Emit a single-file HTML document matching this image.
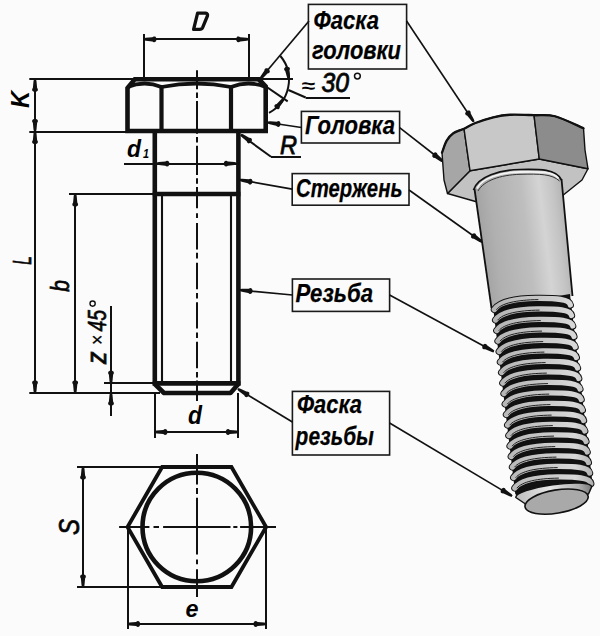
<!DOCTYPE html>
<html><head><meta charset="utf-8"><style>
html,body{margin:0;padding:0;background:#fbfbfb;}
svg{display:block;font-family:"Liberation Sans",sans-serif;}
</style></head><body>
<svg width="600" height="636" viewBox="0 0 600 636">
<line x1="197" y1="70.3" x2="197" y2="89.2" stroke="#111" stroke-width="2"/>
<line x1="197" y1="92.4" x2="197" y2="97.9" stroke="#111" stroke-width="2"/>
<line x1="197" y1="101" x2="197" y2="133.7" stroke="#111" stroke-width="2"/>
<line x1="197" y1="137" x2="197" y2="142.4" stroke="#111" stroke-width="2"/>
<line x1="197" y1="145.7" x2="197" y2="175" stroke="#111" stroke-width="2"/>
<line x1="197" y1="178.3" x2="197" y2="183.7" stroke="#111" stroke-width="2"/>
<line x1="197" y1="187" x2="197" y2="208.2" stroke="#111" stroke-width="2"/>
<line x1="197" y1="213.2" x2="197" y2="218.1" stroke="#111" stroke-width="2"/>
<line x1="197" y1="223" x2="197" y2="249.5" stroke="#111" stroke-width="2"/>
<line x1="197" y1="252.8" x2="197" y2="258.6" stroke="#111" stroke-width="2"/>
<line x1="197" y1="262.7" x2="197" y2="289.2" stroke="#111" stroke-width="2"/>
<line x1="197" y1="293" x2="197" y2="298.6" stroke="#111" stroke-width="2"/>
<line x1="197" y1="302.2" x2="197" y2="328.6" stroke="#111" stroke-width="2"/>
<line x1="197" y1="332.4" x2="197" y2="338" stroke="#111" stroke-width="2"/>
<line x1="197" y1="341.8" x2="197" y2="368.2" stroke="#111" stroke-width="2"/>
<line x1="197" y1="371.9" x2="197" y2="377.6" stroke="#111" stroke-width="2"/>
<line x1="197" y1="380.4" x2="197" y2="401" stroke="#111" stroke-width="2"/>
<line x1="144" y1="34" x2="144" y2="79" stroke="#111" stroke-width="2.0" />
<line x1="249" y1="34" x2="249" y2="79" stroke="#111" stroke-width="2.0" />
<line x1="143.8" y1="39" x2="248.8" y2="39" stroke="#111" stroke-width="2.0" />
<polygon points="143.80,38.30 145.80,37.80 152.30,37.20 153.80,36.40 155.30,36.60 156.30,38.10 156.30,40.50 155.30,42.00 153.80,42.20 152.30,41.40 145.80,40.80 143.80,40.30" fill="#111"/>
<polygon points="248.80,40.30 246.80,40.80 240.30,41.40 238.80,42.20 237.30,42.00 236.30,40.50 236.30,38.10 237.30,36.60 238.80,36.40 240.30,37.20 246.80,37.80 248.80,38.30" fill="#111"/>
<path d="M197.6,13.2 L205.6,13.2 Q208.2,13.6 207.4,16 L202.6,27.6 Q201.8,29.4 199.6,29.4 L193.6,29.4 Z" fill="none" stroke="#111" stroke-width="3.3" stroke-linejoin="round"/>
<line x1="29.3" y1="79" x2="140" y2="79" stroke="#111" stroke-width="2.0" />
<line x1="29.3" y1="132" x2="130" y2="132" stroke="#111" stroke-width="2.0" />
<line x1="35" y1="79.2" x2="35" y2="393" stroke="#111" stroke-width="2.0" />
<polygon points="36.00,79.20 36.50,81.20 37.10,87.70 37.90,89.20 37.70,90.70 36.20,91.70 33.80,91.70 32.30,90.70 32.10,89.20 32.90,87.70 33.50,81.20 34.00,79.20" fill="#111"/>
<polygon points="34.00,131.50 33.50,129.50 32.90,123.00 32.10,121.50 32.30,120.00 33.80,119.00 36.20,119.00 37.70,120.00 37.90,121.50 37.10,123.00 36.50,129.50 36.00,131.50" fill="#111"/>
<polygon points="36.00,131.50 36.50,133.50 37.10,140.00 37.90,141.50 37.70,143.00 36.20,144.00 33.80,144.00 32.30,143.00 32.10,141.50 32.90,140.00 33.50,133.50 34.00,131.50" fill="#111"/>
<polygon points="34.00,393.00 33.50,391.00 32.90,384.50 32.10,383.00 32.30,381.50 33.80,380.50 36.20,380.50 37.70,381.50 37.90,383.00 37.10,384.50 36.50,391.00 36.00,393.00" fill="#111"/>
<line x1="29.3" y1="393" x2="160" y2="393" stroke="#111" stroke-width="2.0" />
<line x1="69" y1="194" x2="160" y2="194" stroke="#111" stroke-width="2.0" />
<line x1="75" y1="194" x2="75" y2="393" stroke="#111" stroke-width="2.0" />
<polygon points="76.20,194.00 76.70,196.00 77.30,202.50 78.10,204.00 77.90,205.50 76.40,206.50 74.00,206.50 72.50,205.50 72.30,204.00 73.10,202.50 73.70,196.00 74.20,194.00" fill="#111"/>
<polygon points="74.20,393.00 73.70,391.00 73.10,384.50 72.30,383.00 72.50,381.50 74.00,380.50 76.40,380.50 77.90,381.50 78.10,383.00 77.30,384.50 76.70,391.00 76.20,393.00" fill="#111"/>
<line x1="104" y1="383" x2="160" y2="383" stroke="#111" stroke-width="2.0" />
<line x1="111" y1="306" x2="111" y2="416" stroke="#111" stroke-width="2.0" />
<polygon points="110.00,383.20 109.50,381.20 108.90,374.70 108.10,373.20 108.30,371.70 109.80,370.70 112.20,370.70 113.70,371.70 113.90,373.20 113.10,374.70 112.50,381.20 112.00,383.20" fill="#111"/>
<polygon points="112.00,393.00 112.50,395.00 113.10,401.50 113.90,403.00 113.70,404.50 112.20,405.50 109.80,405.50 108.30,404.50 108.10,403.00 108.90,401.50 109.50,395.00 110.00,393.00" fill="#111"/>
<text x="29" y="99.5" font-size="26" font-weight="bold" font-style="italic" textLength="17" lengthAdjust="spacingAndGlyphs" text-anchor="middle" transform="rotate(-90 29 99.5)" >K</text>
<text x="31" y="260.5" font-size="26" font-weight="normal" font-style="italic" textLength="8.5" lengthAdjust="spacingAndGlyphs" text-anchor="middle" transform="rotate(-90 31 260.5)" stroke="#111" stroke-width="0.8" >L</text>
<text x="69.3" y="286" font-size="26" font-weight="normal" font-style="italic" textLength="11.7" lengthAdjust="spacingAndGlyphs" text-anchor="middle" transform="rotate(-90 69.3 286)" stroke="#111" stroke-width="0.8" >b</text>
<text x="106" y="357.8" font-size="27" font-weight="normal" font-style="italic" textLength="12.4" lengthAdjust="spacingAndGlyphs" text-anchor="middle" transform="rotate(-90 106 357.8)" stroke="#111" stroke-width="0.9" >z</text>
<text x="103.5" y="340" font-size="21" font-weight="normal" font-style="italic" textLength="10.4" lengthAdjust="spacingAndGlyphs" text-anchor="middle" transform="rotate(-90 103.5 340)" stroke="#111" stroke-width="0.25" >×</text>
<text x="106.4" y="320.8" font-size="26" font-weight="normal" font-style="italic" textLength="21.5" lengthAdjust="spacingAndGlyphs" text-anchor="middle" transform="rotate(-90 106.4 320.8)" stroke="#111" stroke-width="0.7" >45</text>
<circle cx="92.6" cy="303.6" r="2.6" fill="none" stroke="#111" stroke-width="1.4"/>
<path d="M127.5,131 L127.5,88 L134.8,79.2 L259,79.2 L265.7,86.5 L265.7,131 Z" fill="none" stroke="#111" stroke-width="4.6" stroke-linejoin="miter"/>
<line x1="161.5" y1="86" x2="161.5" y2="131" stroke="#111" stroke-width="4.2" />
<line x1="231" y1="86" x2="231" y2="131" stroke="#111" stroke-width="4.2" />
<path d="M127.5,87 Q144.6,80 161.5,87 Q196.5,80 231,87 Q248.4,80 265.7,87" fill="none" stroke="#111" stroke-width="3.8"/>
<line x1="259" y1="79" x2="293" y2="79" stroke="#111" stroke-width="2.0" />
<line x1="154.8" y1="131" x2="154.8" y2="385.5" stroke="#111" stroke-width="4.6" />
<line x1="238.4" y1="131" x2="238.4" y2="385.5" stroke="#111" stroke-width="4.6" />
<line x1="152.8" y1="194" x2="240.4" y2="194" stroke="#111" stroke-width="4.6" />
<line x1="162" y1="194" x2="162" y2="383.2" stroke="#111" stroke-width="2.1" />
<line x1="231" y1="194" x2="231" y2="383.2" stroke="#111" stroke-width="2.1" />
<line x1="152.8" y1="383.4" x2="240.4" y2="383.4" stroke="#111" stroke-width="4.6" />
<path d="M154.8,384 L164,393 L230.5,393 L238.4,384" fill="none" stroke="#111" stroke-width="4.6" stroke-linejoin="round"/>
<line x1="124" y1="164" x2="154.8" y2="164" stroke="#111" stroke-width="2.0" />
<line x1="154.8" y1="164" x2="238.4" y2="164" stroke="#111" stroke-width="2.0" />
<polygon points="156.80,162.60 158.80,162.10 165.30,161.50 166.80,160.70 168.30,160.90 169.30,162.40 169.30,164.80 168.30,166.30 166.80,166.50 165.30,165.70 158.80,165.10 156.80,164.60" fill="#111"/>
<polygon points="236.40,164.60 234.40,165.10 227.90,165.70 226.40,166.50 224.90,166.30 223.90,164.80 223.90,162.40 224.90,160.90 226.40,160.70 227.90,161.50 234.40,162.10 236.40,162.60" fill="#111"/>
<text x="127" y="157" font-size="24" font-weight="bold" font-style="italic" textLength="14" lengthAdjust="spacingAndGlyphs" >d</text>
<text x="143" y="157.5" font-size="13" font-weight="bold" font-style="italic" textLength="6" lengthAdjust="spacingAndGlyphs" >1</text>
<line x1="241" y1="135" x2="271" y2="156.7" stroke="#111" stroke-width="2.0" />
<line x1="271" y1="157" x2="301" y2="157" stroke="#111" stroke-width="2.0" />
<polygon points="241.59,133.69 243.50,134.46 249.12,137.79 250.80,138.02 251.90,139.06 251.83,140.86 250.42,142.81 248.73,143.43 247.40,142.72 246.65,141.19 241.74,136.89 240.41,135.31" fill="#111"/>
<text x="280" y="154" font-size="26" font-weight="normal" font-style="italic" textLength="17" lengthAdjust="spacingAndGlyphs" stroke="#111" stroke-width="0.9" >R</text>
<line x1="155" y1="393" x2="155" y2="438" stroke="#111" stroke-width="2.0" />
<line x1="238" y1="393" x2="238" y2="438" stroke="#111" stroke-width="2.0" />
<line x1="154.8" y1="432" x2="238.4" y2="432" stroke="#111" stroke-width="2.0" />
<polygon points="154.80,431.00 156.80,430.50 163.30,429.90 164.80,429.10 166.30,429.30 167.30,430.80 167.30,433.20 166.30,434.70 164.80,434.90 163.30,434.10 156.80,433.50 154.80,433.00" fill="#111"/>
<polygon points="238.40,433.00 236.40,433.50 229.90,434.10 228.40,434.90 226.90,434.70 225.90,433.20 225.90,430.80 226.90,429.30 228.40,429.10 229.90,429.90 236.40,430.50 238.40,431.00" fill="#111"/>
<text x="195" y="424.3" font-size="26" font-weight="bold" font-style="italic" textLength="14" lengthAdjust="spacingAndGlyphs" text-anchor="middle" >d</text>
<path d="M280.4,56 A37.3,37.3 0 0 1 269,112.8" fill="none" stroke="#111" stroke-width="2.0"/>
<line x1="258" y1="81" x2="287.7" y2="101.4" stroke="#111" stroke-width="2.0" />
<polygon points="287.92,79.38 287.06,77.50 285.30,71.22 284.24,69.89 284.17,68.38 285.46,67.12 287.82,66.69 289.48,67.40 289.95,68.84 289.43,70.46 290.01,76.96 289.88,79.02" fill="#111"/>
<polygon points="284.47,99.34 283.58,101.20 279.90,106.59 279.57,108.26 278.46,109.29 276.66,109.10 274.81,107.57 274.29,105.85 275.10,104.56 276.67,103.92 281.27,99.29 282.93,98.06" fill="#111"/>
<line x1="260.4" y1="78.7" x2="309" y2="21" stroke="#111" stroke-width="1.7" />
<polygon points="259.64,78.05 260.54,76.20 264.28,70.85 264.63,69.19 265.75,68.17 267.55,68.37 269.38,69.92 269.88,71.65 269.07,72.93 267.49,73.56 262.84,78.14 261.16,79.35" fill="#111"/>
<line x1="288.4" y1="90" x2="305.7" y2="97.5" stroke="#111" stroke-width="2.0" />
<line x1="305.7" y1="98" x2="350" y2="98" stroke="#111" stroke-width="2.0" />
<text x="302" y="92" font-size="18" font-weight="bold" font-style="normal" textLength="13.5" lengthAdjust="spacingAndGlyphs" >≈</text>
<text x="321.5" y="92.2" font-size="27" font-weight="normal" font-style="italic" textLength="27.5" lengthAdjust="spacingAndGlyphs" stroke="#111" stroke-width="0.9" >30</text>
<circle cx="357.4" cy="76.1" r="2.9" fill="none" stroke="#111" stroke-width="1.5"/>
<polygon points="266.10,527.00 231.45,587.02 162.15,587.02 127.50,527.00 162.15,466.98 231.45,466.98" fill="none" stroke="#111" stroke-width="3.8"/>
<circle cx="196.8" cy="527" r="54.3" fill="none" stroke="#111" stroke-width="4.6"/>
<line x1="119.1" y1="527" x2="149.4" y2="527" stroke="#111" stroke-width="2"/>
<line x1="153.5" y1="527" x2="159" y2="527" stroke="#111" stroke-width="2"/>
<line x1="163.1" y1="527" x2="230.5" y2="527" stroke="#111" stroke-width="2"/>
<line x1="233.3" y1="527" x2="237.4" y2="527" stroke="#111" stroke-width="2"/>
<line x1="240.1" y1="527" x2="276" y2="527" stroke="#111" stroke-width="2"/>
<line x1="197" y1="454" x2="197" y2="484.4" stroke="#111" stroke-width="2"/>
<line x1="197" y1="488" x2="197" y2="494" stroke="#111" stroke-width="2"/>
<line x1="197" y1="497.7" x2="197" y2="554.6" stroke="#111" stroke-width="2"/>
<line x1="197" y1="559.5" x2="197" y2="564.3" stroke="#111" stroke-width="2"/>
<line x1="197" y1="569.2" x2="197" y2="597" stroke="#111" stroke-width="2"/>
<line x1="77" y1="467" x2="162" y2="467" stroke="#111" stroke-width="2.0" />
<line x1="77" y1="587" x2="162" y2="587" stroke="#111" stroke-width="2.0" />
<line x1="83" y1="467" x2="83" y2="587" stroke="#111" stroke-width="2.0" />
<polygon points="84.00,467.00 84.50,469.00 85.10,475.50 85.90,477.00 85.70,478.50 84.20,479.50 81.80,479.50 80.30,478.50 80.10,477.00 80.90,475.50 81.50,469.00 82.00,467.00" fill="#111"/>
<polygon points="82.00,587.00 81.50,585.00 80.90,578.50 80.10,577.00 80.30,575.50 81.80,574.50 84.20,574.50 85.70,575.50 85.90,577.00 85.10,578.50 84.50,585.00 84.00,587.00" fill="#111"/>
<text x="78.5" y="527" font-size="30" font-weight="normal" font-style="italic" textLength="16" lengthAdjust="spacingAndGlyphs" text-anchor="middle" transform="rotate(-90 78.5 527)" stroke="#111" stroke-width="0.8" >S</text>
<line x1="128" y1="527" x2="128" y2="629" stroke="#111" stroke-width="2.0" />
<line x1="266" y1="527" x2="266" y2="629" stroke="#111" stroke-width="2.0" />
<line x1="127.50000000000001" y1="624" x2="266.1" y2="624" stroke="#111" stroke-width="2.0" />
<polygon points="127.50,623.00 129.50,622.50 136.00,621.90 137.50,621.10 139.00,621.30 140.00,622.80 140.00,625.20 139.00,626.70 137.50,626.90 136.00,626.10 129.50,625.50 127.50,625.00" fill="#111"/>
<polygon points="266.10,625.00 264.10,625.50 257.60,626.10 256.10,626.90 254.60,626.70 253.60,625.20 253.60,622.80 254.60,621.30 256.10,621.10 257.60,621.90 264.10,622.50 266.10,623.00" fill="#111"/>
<text x="192" y="617" font-size="24" font-weight="bold" font-style="italic" textLength="13" lengthAdjust="spacingAndGlyphs" text-anchor="middle" >e</text>
<rect x="308.4" y="4.4" width="98.20000000000005" height="64.6" fill="none" stroke="#1a1a1a" stroke-width="1.6"/>
<text x="313.6" y="28.6" font-size="26.5" font-weight="bold" font-style="italic" textLength="65.4" lengthAdjust="spacingAndGlyphs" stroke="#111" stroke-width="0.25" >Фаска</text>
<text x="312" y="59.3" font-size="26.5" font-weight="bold" font-style="italic" textLength="89" lengthAdjust="spacingAndGlyphs" stroke="#111" stroke-width="0.25" >головки</text>
<rect x="301.4" y="111.4" width="98.20000000000005" height="31.599999999999994" fill="none" stroke="#1a1a1a" stroke-width="1.6"/>
<text x="305" y="134.3" font-size="26.5" font-weight="bold" font-style="italic" textLength="90" lengthAdjust="spacingAndGlyphs" stroke="#111" stroke-width="0.25" >Головка</text>
<line x1="268" y1="122.5" x2="301.4" y2="127.5" stroke="#111" stroke-width="1.7" />
<polygon points="268.15,121.51 270.20,121.31 276.72,121.68 278.32,121.12 279.77,121.54 280.54,123.17 280.18,125.54 278.97,126.88 277.46,126.85 276.09,125.84 269.76,124.28 267.85,123.49" fill="#111"/>
<rect x="292.2" y="173.6" width="116.80000000000001" height="31.599999999999994" fill="none" stroke="#1a1a1a" stroke-width="1.6"/>
<text x="296" y="196.8" font-size="26.5" font-weight="bold" font-style="italic" textLength="106.5" lengthAdjust="spacingAndGlyphs" stroke="#111" stroke-width="0.25" >Стержень</text>
<line x1="240" y1="179.8" x2="292.2" y2="189.2" stroke="#111" stroke-width="1.7" />
<polygon points="240.18,178.82 242.23,178.68 248.74,179.24 250.36,178.72 251.80,179.18 252.51,180.83 252.09,183.20 250.84,184.49 249.33,184.43 247.99,183.37 241.70,181.63 239.82,180.78" fill="#111"/>
<rect x="292.4" y="279" width="97.20000000000005" height="32.39999999999998" fill="none" stroke="#1a1a1a" stroke-width="1.6"/>
<text x="295.6" y="302.3" font-size="26.5" font-weight="bold" font-style="italic" textLength="77.4" lengthAdjust="spacingAndGlyphs" stroke="#111" stroke-width="0.25" >Резьба</text>
<line x1="240" y1="290" x2="292.4" y2="295" stroke="#111" stroke-width="1.7" />
<polygon points="240.10,289.00 242.14,288.71 248.67,288.76 250.24,288.11 251.71,288.46 252.56,290.05 252.32,292.44 251.17,293.83 249.66,293.88 248.25,292.94 241.84,291.69 239.90,291.00" fill="#111"/>
<rect x="292.4" y="391.4" width="97.20000000000005" height="63.60000000000002" fill="none" stroke="#1a1a1a" stroke-width="1.6"/>
<text x="297" y="413.3" font-size="26.5" font-weight="bold" font-style="italic" textLength="65" lengthAdjust="spacingAndGlyphs" stroke="#111" stroke-width="0.25" >Фаска</text>
<text x="295.6" y="445.3" font-size="26.5" font-weight="bold" font-style="italic" textLength="78.4" lengthAdjust="spacingAndGlyphs" stroke="#111" stroke-width="0.25" >резьбы</text>
<line x1="238" y1="389" x2="292.4" y2="422" stroke="#111" stroke-width="1.7" />
<polygon points="238.51,388.14 240.49,388.74 246.37,391.57 248.07,391.66 249.25,392.60 249.34,394.40 248.10,396.46 246.47,397.23 245.08,396.63 244.21,395.17 238.94,391.32 237.49,389.86" fill="#111"/>
<line x1="406.6" y1="21" x2="473.7" y2="121.7" stroke="#111" stroke-width="1.6" />
<polygon points="472.87,122.25 471.34,120.86 467.25,115.77 465.76,114.97 465.10,113.61 465.79,111.94 467.80,110.62 469.60,110.62 470.59,111.76 470.76,113.45 473.85,119.20 474.53,121.15" fill="#111"/>
<line x1="399.6" y1="127.7" x2="443" y2="161.5" stroke="#111" stroke-width="1.6" />
<polygon points="442.38,162.29 440.50,161.45 435.01,157.93 433.33,157.64 432.27,156.56 432.41,154.76 433.88,152.87 435.59,152.30 436.90,153.06 437.59,154.62 442.35,159.09 443.62,160.71" fill="#111"/>
<line x1="409" y1="190" x2="482" y2="242" stroke="#111" stroke-width="1.6" />
<polygon points="481.42,242.82 479.50,242.07 473.85,238.79 472.17,238.58 471.06,237.54 471.11,235.74 472.50,233.79 474.19,233.14 475.53,233.85 476.28,235.37 481.24,239.62 482.58,241.18" fill="#111"/>
<line x1="389.6" y1="295" x2="493.8" y2="351.5" stroke="#111" stroke-width="1.6" />
<polygon points="493.32,352.38 491.33,351.87 485.32,349.31 483.62,349.30 482.40,348.41 482.23,346.62 483.37,344.50 484.96,343.66 486.38,344.20 487.32,345.61 492.75,349.23 494.28,350.62" fill="#111"/>
<line x1="389.6" y1="423" x2="512" y2="496" stroke="#111" stroke-width="1.6" />
<polygon points="511.49,496.86 509.51,496.26 503.63,493.43 501.93,493.34 500.75,492.40 500.66,490.60 501.90,488.54 503.53,487.77 504.92,488.37 505.79,489.83 511.06,493.68 512.51,495.14" fill="#111"/>
<defs>
<linearGradient id="gshank" gradientUnits="userSpaceOnUse" x1="476" y1="192" x2="566" y2="181">
<stop offset="0" stop-color="#a4a4a4"/><stop offset="0.15" stop-color="#b0b0b0"/>
<stop offset="0.5" stop-color="#bebebe"/><stop offset="0.7" stop-color="#d4d4d4"/>
<stop offset="0.85" stop-color="#c4c4c4"/><stop offset="1" stop-color="#acacac"/>
</linearGradient>
<linearGradient id="gcham" gradientUnits="userSpaceOnUse" x1="515" y1="500" x2="595" y2="486">
<stop offset="0" stop-color="#bdbdbd"/><stop offset="0.45" stop-color="#e6e6e6"/>
<stop offset="0.8" stop-color="#b0b0b0"/><stop offset="1" stop-color="#6a6a6a"/>
</linearGradient>
<linearGradient id="gthr" gradientUnits="userSpaceOnUse" x1="495" y1="0" x2="595" y2="0">
<stop offset="0" stop-color="#b4b4b4"/><stop offset="0.45" stop-color="#c6c6c6"/>
<stop offset="0.8" stop-color="#d8d8d8"/><stop offset="1" stop-color="#aaaaaa"/>
</linearGradient>
</defs>
<polygon points="447.50,193.50 470.00,170.70 539.25,159.00 588.00,168.75 582.00,180.00 562.70,195.50 520.00,200.00 477.30,202.00" fill="#c2c2c2" stroke="#111" stroke-width="1.4" stroke-linejoin="round"/>
<path d="M442.00,152.70 C442.78,150.70 444.82,143.93 446.70,140.70 C448.58,137.47 450.42,135.30 453.30,133.30 C456.18,131.30 462.22,129.47 464.00,128.70 L470,170.7 L447.5,193.5 L444,180 Z" fill="#a6a6a6" stroke="#111" stroke-width="1.4" stroke-linejoin="round"/>
<path d="M464.00,128.70 C465.78,127.80 469.82,125.20 474.70,123.30 C479.58,121.40 487.42,118.72 493.30,117.30 C499.18,115.88 503.22,115.10 510.00,114.75 C516.78,114.40 530.00,115.12 534.00,115.20 L539.25,159 L470,170.7 Z" fill="#c8c8c8" stroke="#111" stroke-width="1.4" stroke-linejoin="round"/>
<path d="M534.00,115.20 C537.50,115.38 546.75,114.08 555.00,116.25 C563.25,118.42 578.75,126.25 583.50,128.25 L585,150 L588,168.75 L539.25,159 Z" fill="#8c8c8c" stroke="#111" stroke-width="1.4" stroke-linejoin="round"/>
<path d="M442.00,152.70 C442.78,150.70 444.82,143.93 446.70,140.70 C448.58,137.47 450.42,135.30 453.30,133.30 C456.18,131.30 460.43,130.37 464.00,128.70 C467.57,127.03 469.82,125.20 474.70,123.30 C479.58,121.40 487.42,118.72 493.30,117.30 C499.18,115.88 503.22,115.10 510.00,114.75 C516.78,114.40 526.50,114.95 534.00,115.20 C541.50,115.45 546.75,114.08 555.00,116.25 C563.25,118.42 578.75,126.25 583.50,128.25" fill="none" stroke="#111" stroke-width="2.3" stroke-linecap="round"/>
<path d="M474.5,190 C479,176 500,170.5 520,170 C540,169.5 556,169.5 561.5,180 L572.5,296 L491.5,308 Z" fill="url(#gshank)" stroke="none"/>
<line x1="474.5" y1="189" x2="491.5" y2="308" stroke="#111" stroke-width="1.8"/>
<line x1="561.5" y1="179" x2="572.5" y2="296" stroke="#111" stroke-width="1.8"/>
<path d="M473.5,190 C478,176 500,170 520,169.5 C540,169 556,169 561.5,180" fill="none" stroke="#111" stroke-width="1.7"/>
<path d="M477,188.5 C482,178 500,172.5 520,172 C540,171.5 553,171.5 558.5,178.5" fill="none" stroke="#f4f4f4" stroke-width="1.8"/>
<path d="M478,191 C484,180.5 500,175 520,174.3 C540,173.8 552,174 559.5,181" fill="none" stroke="#333" stroke-width="1.0"/>
<polygon points="493.07,307.00 569.93,294.00 592.62,484.00 589.00,492.00 527.00,506.00 515.27,494.00" fill="#111"/>
<path d="M494.36,309.50 C499.36,302.00 516.36,298.50 536.36,298.30 C556.36,298.10 569.36,299.00 570.36,305.00" fill="none" stroke="#111" stroke-width="7.2" stroke-linecap="round"/>
<path d="M494.36,309.50 C499.36,302.00 516.36,298.50 536.36,298.30 C556.36,298.10 569.36,299.00 570.36,305.00" fill="none" stroke="url(#gthr)" stroke-width="5.3" stroke-linecap="round"/>
<path d="M496.36,309.70 C501.36,303.30 516.36,299.90 538.36,299.60" fill="none" stroke="#222" stroke-width="1.0"/>
<path d="M495.57,320.00 C500.57,312.50 517.57,309.00 537.57,308.80 C557.57,308.60 570.57,309.50 571.57,315.50" fill="none" stroke="#111" stroke-width="7.2" stroke-linecap="round"/>
<path d="M495.57,320.00 C500.57,312.50 517.57,309.00 537.57,308.80 C557.57,308.60 570.57,309.50 571.57,315.50" fill="none" stroke="url(#gthr)" stroke-width="5.3" stroke-linecap="round"/>
<path d="M497.57,320.20 C502.57,313.80 517.57,310.40 539.57,310.10" fill="none" stroke="#222" stroke-width="1.0"/>
<path d="M496.77,330.50 C501.77,323.00 518.77,319.50 538.77,319.30 C558.77,319.10 571.77,320.00 572.77,326.00" fill="none" stroke="#111" stroke-width="7.2" stroke-linecap="round"/>
<path d="M496.77,330.50 C501.77,323.00 518.77,319.50 538.77,319.30 C558.77,319.10 571.77,320.00 572.77,326.00" fill="none" stroke="url(#gthr)" stroke-width="5.3" stroke-linecap="round"/>
<path d="M498.77,330.70 C503.77,324.30 518.77,320.90 540.77,320.60" fill="none" stroke="#222" stroke-width="1.0"/>
<path d="M497.98,341.00 C502.98,333.50 519.98,330.00 539.98,329.80 C559.98,329.60 572.98,330.50 573.98,336.50" fill="none" stroke="#111" stroke-width="7.2" stroke-linecap="round"/>
<path d="M497.98,341.00 C502.98,333.50 519.98,330.00 539.98,329.80 C559.98,329.60 572.98,330.50 573.98,336.50" fill="none" stroke="url(#gthr)" stroke-width="5.3" stroke-linecap="round"/>
<path d="M499.98,341.20 C504.98,334.80 519.98,331.40 541.98,331.10" fill="none" stroke="#222" stroke-width="1.0"/>
<path d="M499.18,351.50 C504.18,344.00 521.18,340.50 541.18,340.30 C561.18,340.10 574.18,341.00 575.18,347.00" fill="none" stroke="#111" stroke-width="7.2" stroke-linecap="round"/>
<path d="M499.18,351.50 C504.18,344.00 521.18,340.50 541.18,340.30 C561.18,340.10 574.18,341.00 575.18,347.00" fill="none" stroke="url(#gthr)" stroke-width="5.3" stroke-linecap="round"/>
<path d="M501.18,351.70 C506.18,345.30 521.18,341.90 543.18,341.60" fill="none" stroke="#222" stroke-width="1.0"/>
<path d="M500.39,362.00 C505.39,354.50 522.39,351.00 542.39,350.80 C562.39,350.60 575.39,351.50 576.39,357.50" fill="none" stroke="#111" stroke-width="7.2" stroke-linecap="round"/>
<path d="M500.39,362.00 C505.39,354.50 522.39,351.00 542.39,350.80 C562.39,350.60 575.39,351.50 576.39,357.50" fill="none" stroke="url(#gthr)" stroke-width="5.3" stroke-linecap="round"/>
<path d="M502.39,362.20 C507.39,355.80 522.39,352.40 544.39,352.10" fill="none" stroke="#222" stroke-width="1.0"/>
<path d="M501.59,372.50 C506.59,365.00 523.59,361.50 543.59,361.30 C563.59,361.10 576.59,362.00 577.59,368.00" fill="none" stroke="#111" stroke-width="7.2" stroke-linecap="round"/>
<path d="M501.59,372.50 C506.59,365.00 523.59,361.50 543.59,361.30 C563.59,361.10 576.59,362.00 577.59,368.00" fill="none" stroke="url(#gthr)" stroke-width="5.3" stroke-linecap="round"/>
<path d="M503.59,372.70 C508.59,366.30 523.59,362.90 545.59,362.60" fill="none" stroke="#222" stroke-width="1.0"/>
<path d="M502.80,383.00 C507.80,375.50 524.80,372.00 544.80,371.80 C564.80,371.60 577.80,372.50 578.80,378.50" fill="none" stroke="#111" stroke-width="7.2" stroke-linecap="round"/>
<path d="M502.80,383.00 C507.80,375.50 524.80,372.00 544.80,371.80 C564.80,371.60 577.80,372.50 578.80,378.50" fill="none" stroke="url(#gthr)" stroke-width="5.3" stroke-linecap="round"/>
<path d="M504.80,383.20 C509.80,376.80 524.80,373.40 546.80,373.10" fill="none" stroke="#222" stroke-width="1.0"/>
<path d="M504.00,393.50 C509.00,386.00 526.00,382.50 546.00,382.30 C566.00,382.10 579.00,383.00 580.00,389.00" fill="none" stroke="#111" stroke-width="7.2" stroke-linecap="round"/>
<path d="M504.00,393.50 C509.00,386.00 526.00,382.50 546.00,382.30 C566.00,382.10 579.00,383.00 580.00,389.00" fill="none" stroke="url(#gthr)" stroke-width="5.3" stroke-linecap="round"/>
<path d="M506.00,393.70 C511.00,387.30 526.00,383.90 548.00,383.60" fill="none" stroke="#222" stroke-width="1.0"/>
<path d="M505.21,404.00 C510.21,396.50 527.21,393.00 547.21,392.80 C567.21,392.60 580.21,393.50 581.21,399.50" fill="none" stroke="#111" stroke-width="7.2" stroke-linecap="round"/>
<path d="M505.21,404.00 C510.21,396.50 527.21,393.00 547.21,392.80 C567.21,392.60 580.21,393.50 581.21,399.50" fill="none" stroke="url(#gthr)" stroke-width="5.3" stroke-linecap="round"/>
<path d="M507.21,404.20 C512.21,397.80 527.21,394.40 549.21,394.10" fill="none" stroke="#222" stroke-width="1.0"/>
<path d="M506.41,414.50 C511.41,407.00 528.41,403.50 548.41,403.30 C568.41,403.10 581.41,404.00 582.41,410.00" fill="none" stroke="#111" stroke-width="7.2" stroke-linecap="round"/>
<path d="M506.41,414.50 C511.41,407.00 528.41,403.50 548.41,403.30 C568.41,403.10 581.41,404.00 582.41,410.00" fill="none" stroke="url(#gthr)" stroke-width="5.3" stroke-linecap="round"/>
<path d="M508.41,414.70 C513.41,408.30 528.41,404.90 550.41,404.60" fill="none" stroke="#222" stroke-width="1.0"/>
<path d="M507.62,425.00 C512.62,417.50 529.62,414.00 549.62,413.80 C569.62,413.60 582.62,414.50 583.62,420.50" fill="none" stroke="#111" stroke-width="7.2" stroke-linecap="round"/>
<path d="M507.62,425.00 C512.62,417.50 529.62,414.00 549.62,413.80 C569.62,413.60 582.62,414.50 583.62,420.50" fill="none" stroke="url(#gthr)" stroke-width="5.3" stroke-linecap="round"/>
<path d="M509.62,425.20 C514.62,418.80 529.62,415.40 551.62,415.10" fill="none" stroke="#222" stroke-width="1.0"/>
<path d="M508.83,435.50 C513.83,428.00 530.83,424.50 550.83,424.30 C570.83,424.10 583.83,425.00 584.83,431.00" fill="none" stroke="#111" stroke-width="7.2" stroke-linecap="round"/>
<path d="M508.83,435.50 C513.83,428.00 530.83,424.50 550.83,424.30 C570.83,424.10 583.83,425.00 584.83,431.00" fill="none" stroke="url(#gthr)" stroke-width="5.3" stroke-linecap="round"/>
<path d="M510.83,435.70 C515.83,429.30 530.83,425.90 552.83,425.60" fill="none" stroke="#222" stroke-width="1.0"/>
<path d="M510.03,446.00 C515.03,438.50 532.03,435.00 552.03,434.80 C572.03,434.60 585.03,435.50 586.03,441.50" fill="none" stroke="#111" stroke-width="7.2" stroke-linecap="round"/>
<path d="M510.03,446.00 C515.03,438.50 532.03,435.00 552.03,434.80 C572.03,434.60 585.03,435.50 586.03,441.50" fill="none" stroke="url(#gthr)" stroke-width="5.3" stroke-linecap="round"/>
<path d="M512.03,446.20 C517.03,439.80 532.03,436.40 554.03,436.10" fill="none" stroke="#222" stroke-width="1.0"/>
<path d="M511.24,456.50 C516.24,449.00 533.24,445.50 553.24,445.30 C573.24,445.10 586.24,446.00 587.24,452.00" fill="none" stroke="#111" stroke-width="7.2" stroke-linecap="round"/>
<path d="M511.24,456.50 C516.24,449.00 533.24,445.50 553.24,445.30 C573.24,445.10 586.24,446.00 587.24,452.00" fill="none" stroke="url(#gthr)" stroke-width="5.3" stroke-linecap="round"/>
<path d="M513.24,456.70 C518.24,450.30 533.24,446.90 555.24,446.60" fill="none" stroke="#222" stroke-width="1.0"/>
<path d="M512.44,467.00 C517.44,459.50 534.44,456.00 554.44,455.80 C574.44,455.60 587.44,456.50 588.44,462.50" fill="none" stroke="#111" stroke-width="7.2" stroke-linecap="round"/>
<path d="M512.44,467.00 C517.44,459.50 534.44,456.00 554.44,455.80 C574.44,455.60 587.44,456.50 588.44,462.50" fill="none" stroke="url(#gthr)" stroke-width="5.3" stroke-linecap="round"/>
<path d="M514.44,467.20 C519.44,460.80 534.44,457.40 556.44,457.10" fill="none" stroke="#222" stroke-width="1.0"/>
<path d="M513.65,477.50 C518.65,470.00 535.65,466.50 555.65,466.30 C575.65,466.10 588.65,467.00 589.65,473.00" fill="none" stroke="#111" stroke-width="7.2" stroke-linecap="round"/>
<path d="M513.65,477.50 C518.65,470.00 535.65,466.50 555.65,466.30 C575.65,466.10 588.65,467.00 589.65,473.00" fill="none" stroke="url(#gthr)" stroke-width="5.3" stroke-linecap="round"/>
<path d="M515.65,477.70 C520.65,471.30 535.65,467.90 557.65,467.60" fill="none" stroke="#222" stroke-width="1.0"/>
<path d="M514.85,488.00 C519.85,480.50 536.85,477.00 556.85,476.80 C576.85,476.60 589.85,477.50 590.85,483.50" fill="none" stroke="#111" stroke-width="7.2" stroke-linecap="round"/>
<path d="M514.85,488.00 C519.85,480.50 536.85,477.00 556.85,476.80 C576.85,476.60 589.85,477.50 590.85,483.50" fill="none" stroke="url(#gthr)" stroke-width="5.3" stroke-linecap="round"/>
<path d="M516.85,488.20 C521.85,481.80 536.85,478.40 558.85,478.10" fill="none" stroke="#222" stroke-width="1.0"/>
<path d="M515.8,497.5 A38.3,7.5 -8.1 0 1 591.7,486.7 L588.5,494 L527,505 Z" fill="url(#gcham)" stroke="#111" stroke-width="1.5" stroke-linejoin="round"/>
<ellipse cx="556.6" cy="501.6" rx="32" ry="11.6" transform="rotate(-9.5 556.6 501.6)" fill="#a9a9a9" stroke="#111" stroke-width="1.6"/>
</svg></body></html>
